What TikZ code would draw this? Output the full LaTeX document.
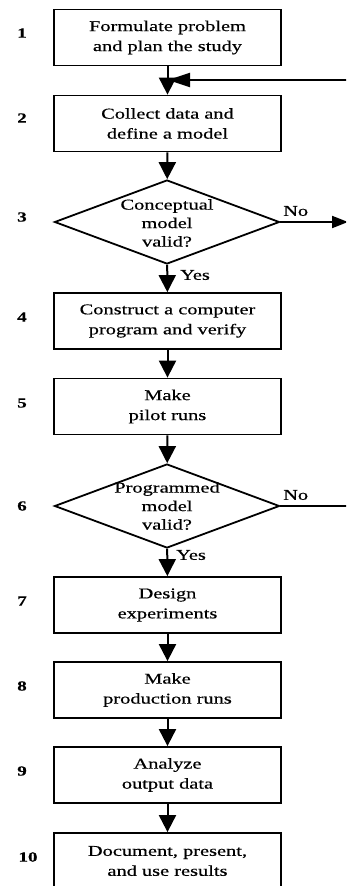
\documentclass[tikz,border=0pt]{standalone}
\usepackage{fontspec}
\setmainfont{Liberation Serif}[FakeStretch=1.36, FakeBold=0.5]
\usetikzlibrary{arrows.meta,shapes.geometric}

\tikzset{
  stepbox/.style={draw=black, line width=1.8pt, minimum width=227pt, minimum height=56pt,
    inner sep=0pt, align=center, font=\fontsize{15}{20}\selectfont},
  decision/.style={draw=black, line width=1.8pt, shape=diamond, minimum width=225pt,
    minimum height=84pt, inner sep=0pt},
  dtext/.style={align=center, font=\fontsize{15}{18.5}\selectfont},
  stepnum/.style={font=\fontsize{14}{16}\selectfont\bfseries},
  lbl/.style={font=\fontsize{15}{18}\selectfont, inner sep=0pt},
  flow/.style={line width=2pt, -{Triangle[width=17pt,length=17pt]}},
  side/.style={line width=2pt},
}

\begin{document}
\begin{tikzpicture}[x=1pt, y=-1pt]
  \useasboundingbox (0,0) rectangle (346,886);
  \clip (0,0) rectangle (346,886);

  % main column of steps
  \node[stepbox] (s1) at (167.5,37.5) {Formulate problem\\and plan the study};
  \node[stepbox] (s2) at (167.5,123.5) {Collect data and\\define a model};
  \node[decision] (s3) at (167,222) {};
  \node[dtext] (t3) at (167,223) {Conceptual\\model\\valid?};
  \node[stepbox] (s4) at (167.5,321) {Construct a computer\\program and verify};
  \node[stepbox] (s5) at (167.5,406.5) {Make\\pilot runs};
  \node[decision] (s6) at (167,506) {};
  \node[dtext] (t6) at (167,506) {Programmed\\model\\valid?};
  \node[stepbox] (s7) at (167.5,605) {Design\\experiments};
  \node[stepbox] (s8) at (167.5,690) {Make\\production runs};
  \node[stepbox] (s9) at (167.5,775) {Analyze\\output data};
  \node[stepbox] (s10) at (167.5,861) {Document, present,\\and use results};

  % step numbers
  \node[stepnum] (n1) at (22,33) {1};
  \node[stepnum] (n2) at (22,118) {2};
  \node[stepnum] (n3) at (22,217) {3};
  \node[stepnum] (n4) at (22,317) {4};
  \node[stepnum] (n5) at (22,403) {5};
  \node[stepnum] (n6) at (22,506) {6};
  \node[stepnum] (n7) at (22,601) {7};
  \node[stepnum] (n8) at (22,686) {8};
  \node[stepnum] (n9) at (22,771) {9};
  \node[stepnum] (n10) at (28,857) {10};

  % downward flow
  \draw[flow] (s1) -- (s2);
  \draw[flow] (s2) -- (s3);
  \draw[flow] (s3) -- (s4);
  \draw[flow] (s4) -- (s5);
  \draw[flow] (s5) -- (s6);
  \draw[flow] (s6) -- (s7);
  \draw[flow] (s7) -- (s8);
  \draw[flow] (s8) -- (s9);
  \draw[flow] (s9) -- (s10);

  % feedback paths on the right
  \coordinate (back) at (350,80);
  \coordinate (merge) at (168,80);
  \draw[side, -{Triangle[width=14pt,length=22pt]}] (back) -- (merge);
  \coordinate (no3end) at (348,222);
  \draw[side, -{Triangle[width=12pt,length=16pt]}] (s3.east) -- (no3end);
  \coordinate (no6end) at (350,506);
  \draw[side] (s6.east) -- (no6end);

  % branch labels
  \node[lbl, anchor=west] (no3) at (283,211) {No};
  \node[lbl, anchor=west] (yes3) at (180,275) {Yes};
  \node[lbl, anchor=west] (no6) at (283,495) {No};
  \node[lbl, anchor=west] (yes6) at (176,555) {Yes};
\end{tikzpicture}
\end{document}
